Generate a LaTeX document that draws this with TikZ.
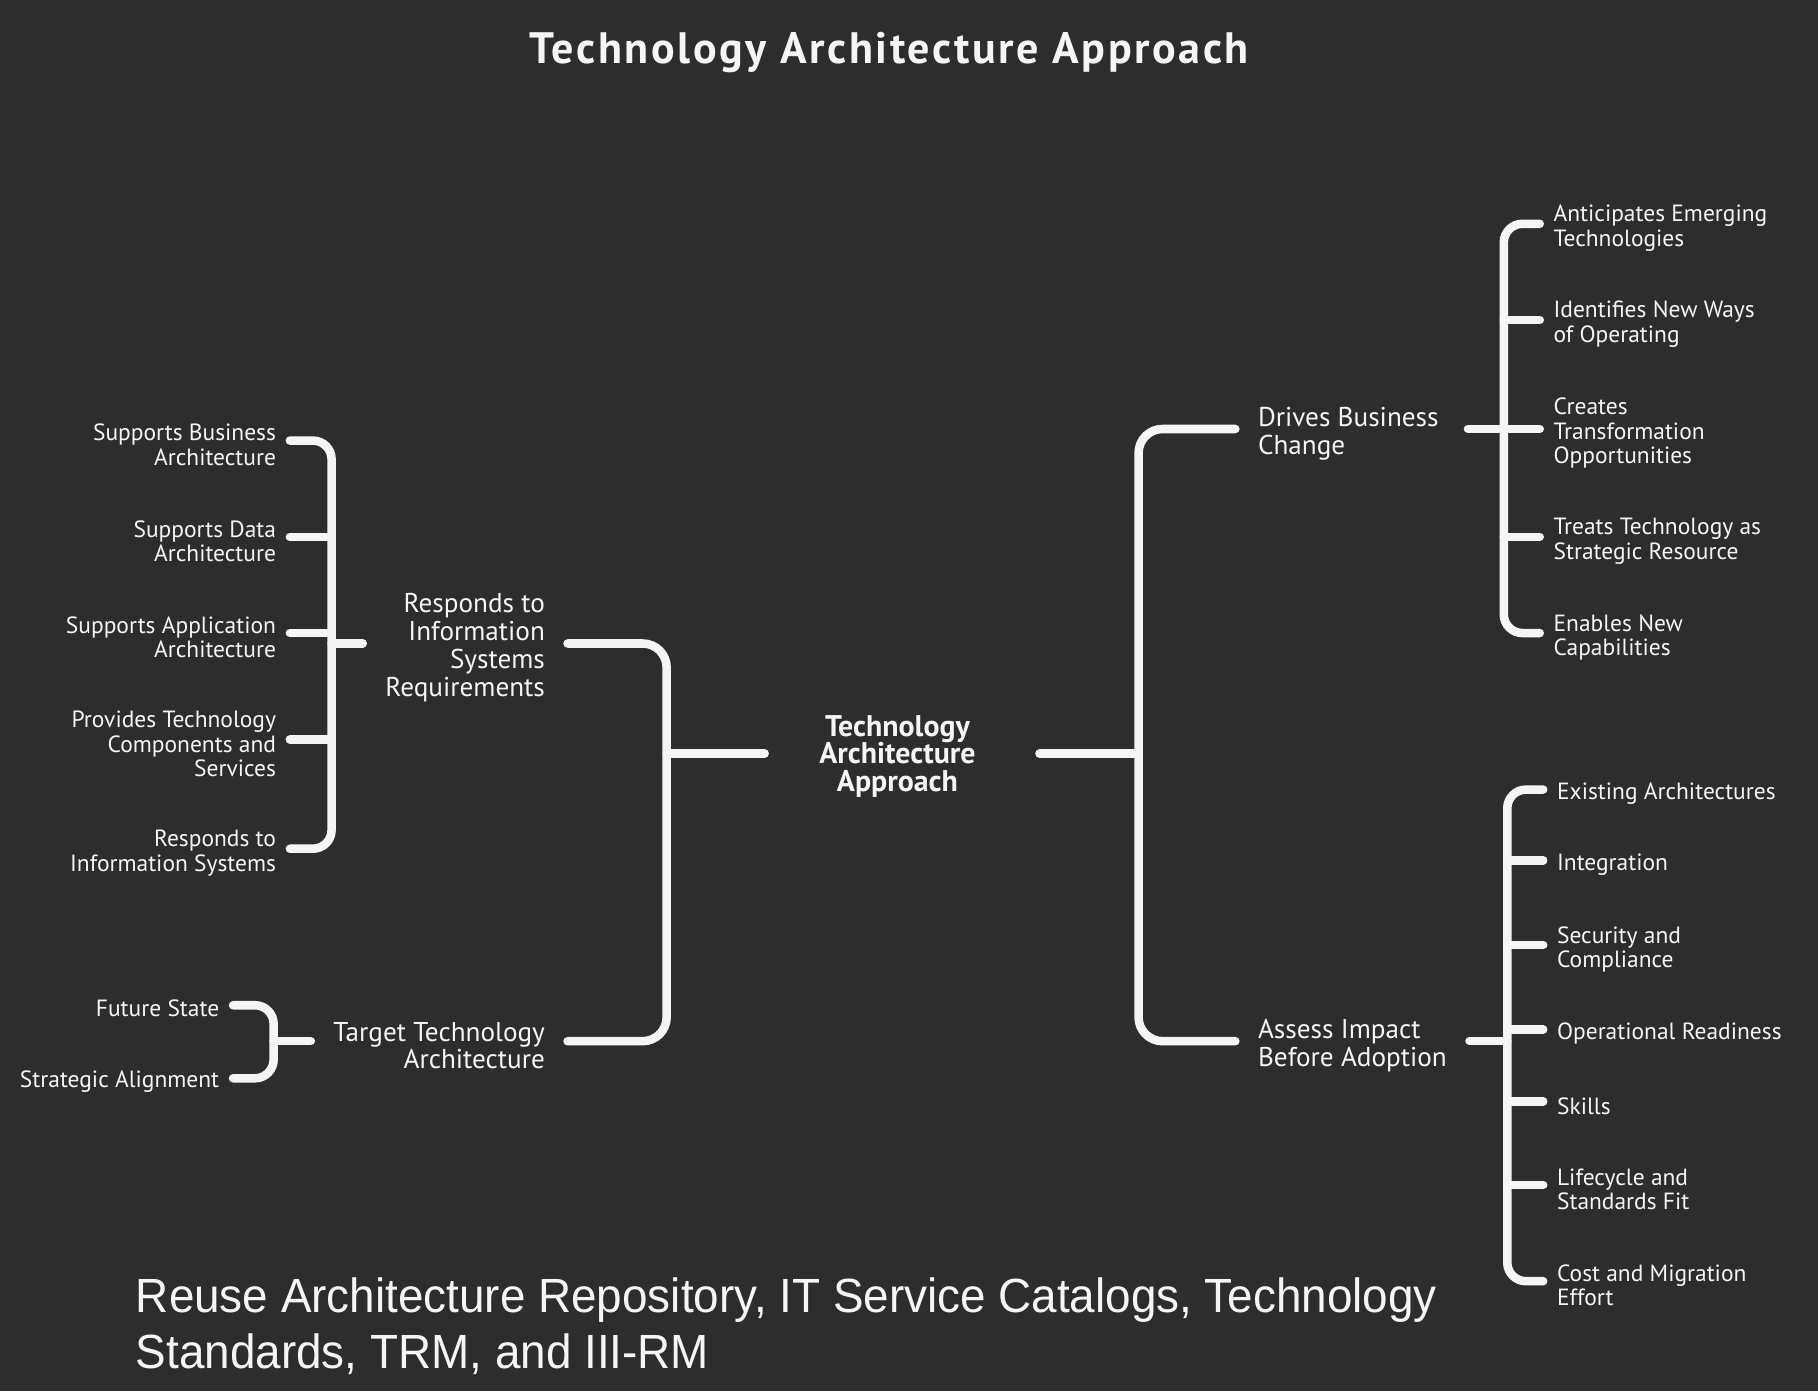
\documentclass[tikz,border=0pt]{standalone}
\usepackage{fontspec}
\setmainfont{PT Sans}
\newfontfamily\footfont[FakeStretch=0.955]{Liberation Sans}
\newfontfamily\titlefont[LetterSpace=5.9]{PT Sans}
\usepackage{tikz}
\usetikzlibrary{positioning}
\definecolor{bgdark}{HTML}{2D2D2D}
\definecolor{chalk}{HTML}{F5F5F5}
\newcommand{\lup}[1]{\rule{0pt}{#1}}
\tikzset{
	wire/.style={draw=chalk, line width=6.4pt, line cap=round},
	leaf/.style={text=chalk, font=\fontsize{17.6}{18.3}\selectfont, inner sep=0pt, outer xsep=10.4pt},
	branch/.style={text=chalk, font=\fontsize{20.4}{20.9}\selectfont, inner sep=0pt, outer xsep=17pt},
}

\begin{document}
\begin{tikzpicture}[x=0.8696pt, y=-0.8696pt]
	\path[use as bounding box, fill=bgdark] (0,0) rectangle (1568,1200);

	\node[text=chalk, font=\titlefont\fontsize{33}{36}\bfseries\selectfont, inner sep=0pt] (title) at (767,45) {Technology Architecture Approach};
	\node[text=chalk, font=\fontsize{22.4}{20.9}\bfseries\selectfont, align=center, inner sep=0pt, outer xsep=41pt] (root) at (774,650) {\lup{20pt}Technology\\Architecture\\Approach};

	% branches
	\node[branch, anchor=west, align=left] (drives) at (1065.5,370) {\lup{21pt}Drives Business\\Change};
	\node[branch, anchor=west, align=left] (assess) at (1065.5,898) {\lup{21pt}Assess Impact\\Before Adoption};
	\node[branch, anchor=east, align=right] (responds) at (489.5,555) {\lup{21pt}Responds to\\Information\\Systems\\Requirements};
	\node[branch, anchor=east, align=right] (target) at (489.5,898) {\lup{21pt}Target Technology\\Architecture};

	% leaves on the right
	\foreach[count=\i] \ly/\ltext in {193/{Anticipates Emerging\\Technologies},276/{Identifies New Ways\\of Operating},370/{Creates\\Transformation\\Opportunities},463/{Treats Technology as\\Strategic Resource},546/{Enables New\\Capabilities}} {
		\node[leaf, anchor=west, align=left] (d-\i) at (1328,\ly) {\lup{19pt}\ltext};
	}
	\foreach[count=\i] \ly/\ltext in {681/{Existing Architectures},742/{Integration},815/{Security and\\Compliance},888/{Operational Readiness},950/{Skills},1022/{Lifecycle and\\Standards Fit},1105/{Cost and Migration\\Effort}} {
		\node[leaf, anchor=west, align=left] (a-\i) at (1331,\ly) {\lup{19pt}\ltext};
	}

	% leaves on the left
	\foreach[count=\i] \ly/\ltext in {380/{Supports Business\\Architecture},463/{Supports Data\\Architecture},546/{Supports Application\\Architecture},638/{Provides Technology\\Components and\\Services},732/{Responds to\\Information Systems}} {
		\node[leaf, anchor=east, align=right] (r-\i) at (250,\ly) {\lup{19pt}\ltext};
	}
	\node[leaf, anchor=east, align=right] (t-1) at (201,867) {\lup{17pt}Future State};
	\node[leaf, anchor=east, align=right] (t-2) at (201,930) {\lup{17pt}Strategic Alignment};

	% hubs
	\coordinate (hub-d) at (drives.east -| 1297,0);
	\coordinate (hub-a) at (assess.east -| 1300,0);
	\coordinate (hub-r) at (responds.west -| 286,0);
	\coordinate (hub-t) at (target.west -| 236,0);
	\coordinate (hub-l) at (root.west -| 575,0);
	\coordinate (hub-m) at (root.east -| 982,0);

	\draw[wire, rounded corners=14pt] (d-1.west) -| (hub-d) |- (d-5.west);
	\foreach \j in {2,3,4} \draw[wire] (d-\j.west) -- (d-\j.west -| hub-d);
	\draw[wire] ([xshift=5pt]drives.east) -- (hub-d);

	\draw[wire, rounded corners=14pt] (a-1.west) -| (hub-a) |- (a-7.west);
	\foreach \j in {2,...,6} \draw[wire] (a-\j.west) -- (a-\j.west -| hub-a);
	\draw[wire] (assess.east) -- (hub-a);

	\draw[wire, rounded corners=14pt] (r-1.east) -| (hub-r) |- (r-5.east);
	\foreach \j in {2,3,4} \draw[wire] (r-\j.east) -- (r-\j.east -| hub-r);
	\draw[wire] (responds.west) -- (hub-r);

	\draw[wire, rounded corners=14pt] (t-1.east) -| (hub-t) |- (t-2.east);
	\draw[wire] (target.west) -- (hub-t);

	\draw[wire, rounded corners=18pt] (responds.east) -| (hub-l) |- (target.east);
	\draw[wire] (root.west) -- (hub-l);
	\draw[wire, rounded corners=18pt] (drives.west) -| (hub-m) |- (assess.west);
	\draw[wire] ([xshift=7pt]root.east) -- (hub-m);

	\node[text=chalk, font=\footfont\fontsize{36}{41.7}\selectfont, anchor=west, align=left, inner sep=0pt] (foot) at (117,1144) {Reuse Architecture Repository, IT Service Catalogs, Technology\\Standards, TRM, and III-RM};
\end{tikzpicture}
\end{document}
